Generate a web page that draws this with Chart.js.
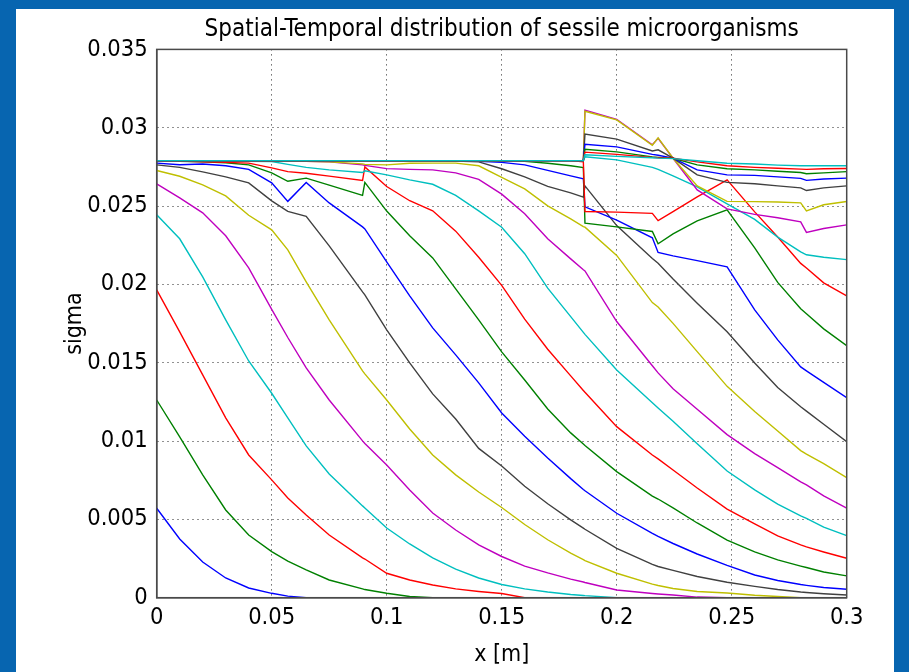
<!DOCTYPE html>
<html>
<head>
<meta charset="utf-8">
<script src="https://cdn.jsdelivr.net/npm/chart.js@4.4.0/dist/chart.umd.min.js"></script>
<style>
  html, body { margin: 0; padding: 0; }
  body { width: 909px; height: 672px; background: #0765b0; position: relative; overflow: hidden; }
  #panel { position: absolute; left: 16px; top: 9px; width: 878px; height: 663px; background: #fff; }
</style>
</head>
<body>
<div id="panel"><canvas id="myChart" width="878" height="663"></canvas></div>
<script>
// x positions (m) shared by every profile
const xGrid = [0, 0.01, 0.02, 0.03, 0.04, 0.05, 0.057, 0.065, 0.075, 0.0895, 0.0905,
    0.1, 0.11, 0.12, 0.13, 0.14, 0.15, 0.16, 0.17, 0.18, 0.1855, 0.1862,
    0.2, 0.2155, 0.218, 0.2245, 0.235, 0.248, 0.26, 0.27, 0.28, 0.2825, 0.29, 0.3];

const xTickLabels = ['0', '0.05', '0.1', '0.15', '0.2', '0.25', '0.3'];
const yTickLabels = ['0', '0.005', '0.01', '0.015', '0.02', '0.025', '0.03', '0.035'];

// sigma profiles, one per output time
const t1 = [0.00571, 0.00375, 0.00228, 0.00126, 0.00062, 0.00028, 0.0001, 0,
    null, null, null, null, null, null, null, null, null, null, null, null, null,
    null, null, null, null, null, null, null, null, null, null, null, null, null];
const t2 = [0.01262, 0.01026, 0.00784, 0.0056, 0.004, 0.00294, 0.00234, 0.00177, 0.00113, 0.00056,
    0.00052, 0.00028, 0.00008, 0,
    null, null, null, null, null, null, null, null, null, null,
    null, null, null, null, null, null, null, null, null, null];
const t3 = [0.01965, 0.01697, 0.01422, 0.01148, 0.00911, 0.00752, 0.00637, 0.00528, 0.004, 0.00254,
    0.00247, 0.00156, 0.00113, 0.00081, 0.00056, 0.0004, 0.00027, 0,
    null, null, null, null, null, null, null, null,
    null, null, null, null, null, null, null, null];
const t4 = [0.02444, 0.02291, 0.02048, 0.01773, 0.01511, 0.01305, 0.01148, 0.00969, 0.0079, 0.00586,
    0.00573, 0.00445, 0.00343, 0.00254, 0.00183, 0.00126, 0.00084, 0.00056, 0.00036, 0.0002,
    0.00014, 0.00013, 0,
    null, null, null, null, null, null, null, null, null, null, null];
const t5 = [0.02642, 0.02552, 0.02457, 0.0231, 0.02105, 0.0184, 0.01661, 0.01467, 0.01262, 0.01001,
    0.00985, 0.00847, 0.00688, 0.00541, 0.00432, 0.00337, 0.00263, 0.00202, 0.00158, 0.00119,
    0.001, 0.00097, 0.00049, 0.00027, 0.00024, 0.00017, 0.00004, 0,
    null, null, null, null, null, null];
const t6 = [0.02727, 0.0269, 0.02635, 0.02565, 0.02441, 0.02348, 0.0222, 0.02016, 0.01773, 0.01448,
    0.01429, 0.01262, 0.01077, 0.00911, 0.00784, 0.00675, 0.00576, 0.00467, 0.0037, 0.00285,
    0.00243, 0.00237, 0.00156, 0.00087, 0.00078, 0.00059, 0.0004, 0.0003, 0.00016, 0.00008,
    0, null, null, null];
const t7 = [0.02763, 0.02747, 0.02718, 0.02686, 0.02648, 0.02533, 0.02466, 0.02434, 0.02246, 0.01952,
    0.01933, 0.01709, 0.01499, 0.01301, 0.01141, 0.00953, 0.00841, 0.00711, 0.006, 0.00497,
    0.00444, 0.00437, 0.00315, 0.00213, 0.00199, 0.00174, 0.00135, 0.00099, 0.00072, 0.00052,
    0.00036, 0.00033, 0.00025, 0.00017];
const t8 = [0.02774, 0.02764, 0.02768, 0.02757, 0.02734, 0.02648, 0.0253, 0.0265, 0.0252, 0.02367,
    0.02354, 0.02144, 0.01927, 0.01722, 0.0155, 0.01371, 0.01179, 0.01031, 0.00892, 0.0076,
    0.00691, 0.00683, 0.00539, 0.0041, 0.00391, 0.00346, 0.00279, 0.00206, 0.00145, 0.0011,
    0.00084, 0.00079, 0.00065, 0.00054];
const t9 = [0.02789, 0.02786, 0.02782, 0.02776, 0.02763, 0.02712, 0.02658, 0.02678, 0.02634, 0.02568,
    0.02651, 0.02468, 0.0231, 0.02169, 0.01971, 0.01773, 0.01569, 0.0139, 0.01205, 0.01052,
    0.00981, 0.00972, 0.00805, 0.00649, 0.0063, 0.00573, 0.00477, 0.00368, 0.00292, 0.00241,
    0.00202, 0.00193, 0.00164, 0.00139];
const t10 = [0.02789, 0.02787, 0.02783, 0.02779, 0.02774, 0.02744, 0.0272, 0.02709, 0.02691, 0.02663,
    0.0275, 0.02625, 0.02534, 0.0247, 0.0234, 0.02173, 0.01994, 0.01778, 0.01586, 0.01416,
    0.01323, 0.01311, 0.01092, 0.00911, 0.00886, 0.00815, 0.007, 0.00566, 0.00471, 0.00394,
    0.00337, 0.00324, 0.00292, 0.00252];
const t11 = [0.0279, 0.0279, 0.02789, 0.02787, 0.02786, 0.02784, 0.02766, 0.02747, 0.02731, 0.02714,
    0.02725, 0.02699, 0.02667, 0.02639, 0.02568, 0.02469, 0.02365, 0.02196, 0.01976, 0.01794,
    0.01694, 0.01681, 0.01453, 0.01245, 0.01211, 0.01126, 0.00983, 0.00809, 0.00688, 0.00598,
    0.00522, 0.00506, 0.00451, 0.00396];
const t12 = [0.0279, 0.0279, 0.0279, 0.02789, 0.02789, 0.02788, 0.02787, 0.02786, 0.02782, 0.02763,
    0.0276, 0.02739, 0.02734, 0.02731, 0.02712, 0.0267, 0.02576, 0.02451, 0.02291, 0.02163,
    0.02093, 0.02086, 0.01763, 0.01481, 0.01435, 0.01334, 0.01203, 0.01041, 0.0092, 0.0083,
    0.0074, 0.0072, 0.0065, 0.00571];
const t13 = [0.0279, 0.0279, 0.0279, 0.0279, 0.02789, 0.02789, 0.02788, 0.02786, 0.02782, 0.02769,
    0.02766, 0.02763, 0.02773, 0.02774, 0.02774, 0.02757, 0.02683, 0.0261, 0.02501, 0.02418,
    0.02369, 0.02365, 0.02185, 0.01884, 0.01856, 0.01751, 0.01571, 0.01349, 0.01188, 0.01064,
    0.00939, 0.00916, 0.00856, 0.00766];
const t14 = [0.0279, 0.0279, 0.0279, 0.0279, 0.0279, 0.0279, 0.0279, 0.0279, 0.0279, 0.0279,
    0.0279, 0.0279, 0.0279, 0.0279, 0.02787, 0.02782, 0.02738, 0.02686, 0.02626, 0.02584,
    0.02557, 0.02629, 0.02375, 0.02165, 0.02135, 0.02034, 0.0188, 0.01697, 0.01498, 0.01342,
    0.01219, 0.01191, 0.01107, 0.00996];
const t15 = [0.0279, 0.0279, 0.0279, 0.0279, 0.0279, 0.0279, 0.0279, 0.0279, 0.0279, 0.0279,
    0.0279, 0.0279, 0.0279, 0.0279, 0.0279, 0.02785, 0.02779, 0.02763, 0.02728, 0.02693,
    0.02674, 0.02495, 0.0241, 0.02297, 0.02204, 0.02182, 0.02152, 0.02112, 0.01837, 0.01646,
    0.01473, 0.01448, 0.01375, 0.01277];
const t16 = [0.0279, 0.0279, 0.0279, 0.0279, 0.0279, 0.0279, 0.0279, 0.0279, 0.0279, 0.0279,
    0.0279, 0.0279, 0.0279, 0.0279, 0.0279, 0.0279, 0.02789, 0.02785, 0.02773, 0.02757,
    0.02746, 0.02391, 0.02367, 0.02338, 0.02259, 0.02322, 0.02405, 0.02476, 0.02233, 0.02013,
    0.01844, 0.01812, 0.01716, 0.01609];
const t17 = [0.0279, 0.0279, 0.0279, 0.0279, 0.0279, 0.0279, 0.0279, 0.0279, 0.0279, 0.0279,
    0.0279, 0.0279, 0.0279, 0.0279, 0.0279, 0.0279, 0.0279, 0.0279, 0.0279, 0.0279,
    0.02782, 0.02465, 0.02461, 0.02453, 0.02407, 0.02465, 0.02559, 0.02667, 0.02463, 0.02303,
    0.02134, 0.02105, 0.0201, 0.01927];
const t18 = [0.0279, 0.0279, 0.0279, 0.0279, 0.0279, 0.0279, 0.0279, 0.0279, 0.0279, 0.0279,
    0.0279, 0.0279, 0.0279, 0.0279, 0.0279, 0.0279, 0.0279, 0.0279, 0.0279, 0.0279,
    0.0279, 0.02814, 0.02795, 0.02747, 0.02734, 0.02693, 0.02623, 0.02514, 0.02415, 0.02302,
    0.02208, 0.02189, 0.02173, 0.02158];
const t19 = [0.0279, 0.0279, 0.0279, 0.0279, 0.0279, 0.0279, 0.0279, 0.0279, 0.0279, 0.0279,
    0.0279, 0.0279, 0.0279, 0.0279, 0.0279, 0.0279, 0.0279, 0.0279, 0.0279, 0.0279,
    0.0279, 0.03112, 0.03054, 0.02891, 0.02932, 0.02805, 0.02603, 0.02482, 0.02447, 0.02425,
    0.02399, 0.02332, 0.02357, 0.0238];
const t20 = [0.0279, 0.0279, 0.0279, 0.0279, 0.0279, 0.0279, 0.0279, 0.0279, 0.0279, 0.0279,
    0.0279, 0.0279, 0.0279, 0.0279, 0.0279, 0.0279, 0.0279, 0.0279, 0.0279, 0.0279,
    0.0279, 0.03105, 0.0305, 0.02888, 0.02935, 0.02805, 0.02629, 0.0253, 0.02528, 0.02526,
    0.0252, 0.02469, 0.02508, 0.02529];
const t21 = [0.0279, 0.0279, 0.0279, 0.0279, 0.0279, 0.0279, 0.0279, 0.0279, 0.0279, 0.0279,
    0.0279, 0.0279, 0.0279, 0.0279, 0.0279, 0.0279, 0.0279, 0.0279, 0.0279, 0.0279,
    0.0279, 0.02959, 0.02927, 0.02852, 0.02859, 0.02806, 0.02699, 0.02651, 0.02642, 0.02629,
    0.02616, 0.02599, 0.02616, 0.02629];
const t22 = [0.0279, 0.0279, 0.0279, 0.0279, 0.0279, 0.0279, 0.0279, 0.0279, 0.0279, 0.0279,
    0.0279, 0.0279, 0.0279, 0.0279, 0.0279, 0.0279, 0.0279, 0.0279, 0.0279, 0.0279,
    0.0279, 0.02895, 0.02878, 0.0283, 0.02824, 0.02806, 0.02731, 0.02699, 0.02696, 0.02686,
    0.02677, 0.02664, 0.02673, 0.02678];
const t23 = [0.0279, 0.0279, 0.0279, 0.0279, 0.0279, 0.0279, 0.0279, 0.0279, 0.0279, 0.0279,
    0.0279, 0.0279, 0.0279, 0.0279, 0.0279, 0.0279, 0.0279, 0.0279, 0.0279, 0.0279,
    0.0279, 0.02863, 0.02846, 0.02814, 0.02811, 0.02805, 0.02763, 0.02738, 0.02731, 0.02722,
    0.02714, 0.02706, 0.02712, 0.0272];
const t24 = [0.0279, 0.0279, 0.0279, 0.0279, 0.0279, 0.0279, 0.0279, 0.0279, 0.0279, 0.0279,
    0.0279, 0.0279, 0.0279, 0.0279, 0.0279, 0.0279, 0.0279, 0.0279, 0.0279, 0.0279,
    0.0279, 0.02844, 0.0283, 0.02811, 0.02808, 0.02805, 0.02782, 0.02757, 0.02747, 0.02741,
    0.02736, 0.02734, 0.02738, 0.0274];
const t25 = [0.0279, 0.0279, 0.0279, 0.0279, 0.0279, 0.0279, 0.0279, 0.0279, 0.0279, 0.0279,
    0.0279, 0.0279, 0.0279, 0.0279, 0.0279, 0.0279, 0.0279, 0.0279, 0.0279, 0.0279,
    0.0279, 0.02827, 0.02817, 0.02808, 0.02806, 0.02803, 0.02789, 0.02773, 0.02768, 0.02761,
    0.02757, 0.02757, 0.02757, 0.02757];

const profiles = [t1, t2, t3, t4, t5, t6, t7, t8, t9, t10, t11, t12, t13,
    t14, t15, t16, t17, t18, t19, t20, t21, t22, t23, t24, t25];

// matlab's old colour order
const lineColors = ['#0000ff', '#008000', '#ff0000', '#00bfbf', '#bf00bf', '#bfbf00', '#404040'];

const fontFamily = '"DejaVu Sans Condensed", "DejaVu Sans", sans-serif';
const frameColor = '#4a4a4a';

// solid box round the axes, drawn over the curves
const boxFrame = {
    id: 'boxFrame',
    afterDatasetsDraw(chart) {
        const {ctx, chartArea} = chart;
        ctx.save();
        ctx.strokeStyle = frameColor;
        ctx.lineWidth = 1.5;
        ctx.strokeRect(chartArea.left, chartArea.top,
            chartArea.right - chartArea.left, chartArea.bottom - chartArea.top);
        ctx.restore();
    }
};

const datasets = profiles.map(function(vals, i) {
    return {
        data: vals.map((v, j) => ({ x: xGrid[j], y: v })),
        borderColor: lineColors[i % lineColors.length],
        borderWidth: 1.4,
        pointRadius: 0,
        fill: false,
        tension: 0,
        order: profiles.length - i  // later times on top
    };
});

var ctx = document.getElementById('myChart').getContext('2d');
var chart = new Chart(ctx, {
    type: 'line',
    data: { datasets: datasets },
    plugins: [boxFrame],
    options: {
        responsive: false,
        animation: false,
        devicePixelRatio: 1,
        layout: { padding: { left: 0, top: 0, right: 47.3, bottom: 0 } },
        plugins: {
            legend: { display: false },
            tooltip: { enabled: false },
            title: {
                display: true,
                fullSize: false,
                text: 'Spatial-Temporal distribution of sessile microorganisms',
                color: '#000',
                font: { family: fontFamily, size: 24, weight: 'normal' },
                padding: { top: 6, bottom: 5.6 }
            }
        },
        scales: {
            x: {
                type: 'linear',
                min: 0,
                max: 0.3,
                afterFit: function(scale) { scale.height = 74.3; },
                ticks: {
                    stepSize: 0.05,
                    padding: 6,
                    color: '#000',
                    maxRotation: 0,
                    font: { family: fontFamily, size: 23.5 },
                    callback: (v) => xTickLabels[Math.round(v / 0.05)]
                },
                grid: { color: '#222', lineWidth: 1, drawTicks: false },
                border: { display: true, color: frameColor, width: 1.5, dash: [1, 4] },
                title: {
                    display: true,
                    text: 'x [m]',
                    color: '#000',
                    font: { family: fontFamily, size: 23 },
                    padding: { top: 0, bottom: 3.2 }
                }
            },
            y: {
                type: 'linear',
                min: 0,
                max: 0.035,
                afterFit: function(scale) { scale.width = 140.7; },
                ticks: {
                    stepSize: 0.005,
                    padding: 9,
                    color: '#000',
                    font: { family: fontFamily, size: 23.5 },
                    callback: (v) => yTickLabels[Math.round(v / 0.005)]
                },
                grid: { color: '#222', lineWidth: 1, drawTicks: false },
                border: { display: true, color: frameColor, width: 1.5, dash: [1, 4] },
                title: {
                    display: true,
                    text: 'sigma',
                    color: '#000',
                    font: { family: fontFamily, size: 23 },
                    padding: { top: 45.2, bottom: 0 }
                }
            }
        }
    }
});
</script>
</body>
</html>
